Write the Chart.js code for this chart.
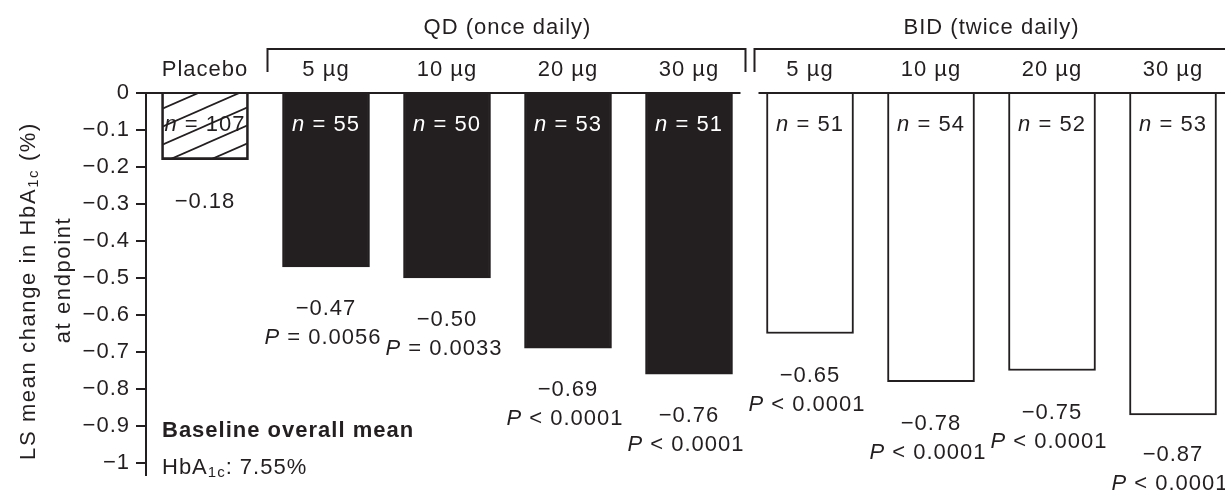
<!DOCTYPE html>
<html>
<head>
<meta charset="utf-8">
<script src="https://cdn.jsdelivr.net/npm/chart.js@4.4.0/dist/chart.umd.min.js"></script>
<style>
  html, body { margin: 0; padding: 0; background: #fff; }
</style>
</head>
<body>
<canvas id="hba1cChart" width="1225" height="494"></canvas>
<script>
// Data
const categories = ['Placebo', '5 µg', '10 µg', '20 µg', '30 µg', '5 µg', '10 µg', '20 µg', '30 µg'];
const regimens = ['placebo', 'QD', 'QD', 'QD', 'QD', 'BID', 'BID', 'BID', 'BID'];
const lsMeanChange = [-0.18, -0.47, -0.50, -0.69, -0.76, -0.65, -0.78, -0.75, -0.87];
const sampleSizes = [107, 55, 50, 53, 51, 51, 54, 52, 53];
const pValues = [null, '= 0.0056', '= 0.0033', '< 0.0001', '< 0.0001', '< 0.0001', '< 0.0001', '< 0.0001', '< 0.0001'];
const groupNames = { QD: 'QD (once daily)', BID: 'BID (twice daily)' };
const baselineTitle = 'Baseline overall mean';
const baselineValue = ': 7.55%';

const INK = '#231f20';
const FAMILY = '"Liberation Sans", Arial, Helvetica, sans-serif';
const REG = `22px ${FAMILY}`;
const ITAL = `italic 22px ${FAMILY}`;
const BOLD = `bold 22px ${FAMILY}`;
const SUB = `15px ${FAMILY}`;

function minus(v) {
    return v < 0 ? '\u2212' + Math.abs(v).toFixed(2) : v.toFixed(2);
}

// diagonal hatch used for the placebo bar
function hatchPattern() {
    const w = 41, h = 18;
    const c = document.createElement('canvas');
    c.width = w;
    c.height = h;
    const g = c.getContext('2d');
    g.strokeStyle = INK;
    g.lineWidth = 1.7;
    [-h, 0, h].forEach(dy => {
        g.beginPath();
        g.moveTo(-w, 2 * h + dy);
        g.lineTo(2 * w, -h + dy);
        g.stroke();
    });
    return g.createPattern(c, 'repeat');
}

// draws several font runs as one line (italic P / n, subscripts)
function drawRuns(ctx, runs, x, y, align) {
    let total = 0;
    runs.forEach(r => {
        ctx.font = r.font;
        r.w = ctx.measureText(r.text).width;
        total += r.w;
    });
    let cx = align === 'center' ? x - total / 2 : (align === 'right' ? x - total : x);
    ctx.textAlign = 'left';
    runs.forEach(r => {
        ctx.font = r.font;
        ctx.fillText(r.text, cx, y + (r.dy || 0));
        cx += r.w;
    });
}

const annotations = {
    id: 'annotations',
    beforeDraw(chart) {
        chart.ctx.letterSpacing = '1px';
    },
    afterDraw(chart) {
        const ctx = chart.ctx;
        const xs = chart.scales.x;
        const ys = chart.scales.y;
        const W = chart.width;
        const H = chart.height;
        const zeroY = ys.getPixelForValue(0);
        const cx = i => xs.getPixelForValue(i);
        const mid = (a, b) => (cx(a) + cx(b)) / 2;
        const split = mid(4, 5);

        ctx.save();
        ctx.letterSpacing = '1px';
        ctx.strokeStyle = INK;
        ctx.fillStyle = INK;
        ctx.lineWidth = 2;
        ctx.textBaseline = 'middle';

        // zero line, broken between the two regimens
        ctx.beginPath();
        ctx.moveTo(chart.chartArea.left, zeroY);
        ctx.lineTo(split - 9, zeroY);
        ctx.moveTo(split + 9, zeroY);
        ctx.lineTo(W, zeroY);
        ctx.stroke();

        // brackets
        const bTop = 49, bBottom = 72;
        ctx.beginPath();
        ctx.moveTo(mid(0, 1) + 2, bBottom);
        ctx.lineTo(mid(0, 1) + 2, bTop);
        ctx.lineTo(split - 4, bTop);
        ctx.lineTo(split - 4, bBottom);
        ctx.moveTo(split + 5, bBottom);
        ctx.lineTo(split + 5, bTop);
        ctx.lineTo(W, bTop);
        ctx.stroke();

        // group titles
        ['QD', 'BID'].forEach(g => {
            const idx = regimens.map((r, i) => r === g ? i : -1).filter(i => i >= 0);
            const gx = (cx(idx[0]) + cx(idx[idx.length - 1])) / 2;
            drawRuns(ctx, [{ text: groupNames[g], font: REG }], gx, 28, 'center');
        });

        lsMeanChange.forEach((v, i) => {
            const x = cx(i);
            // category label
            ctx.fillStyle = INK;
            drawRuns(ctx, [{ text: categories[i], font: REG }], x, 70, 'center');

            // n inside bar
            ctx.fillStyle = regimens[i] === 'QD' ? '#fff' : INK;
            drawRuns(ctx, [{ text: 'n', font: ITAL }, { text: ' = ' + sampleSizes[i], font: REG }], x, zeroY + 32, 'center');

            // value and P below bar
            ctx.fillStyle = INK;
            const vy = Math.min(ys.getPixelForValue(v) + 42, H - 39);
            drawRuns(ctx, [{ text: minus(v), font: REG }], x, vy, 'center');
            if (pValues[i]) {
                drawRuns(ctx, [{ text: 'P', font: ITAL }, { text: ' ' + pValues[i], font: REG }], x - 3, vy + 29, 'center');
            }
        });

        // baseline note
        ctx.fillStyle = INK;
        drawRuns(ctx, [{ text: baselineTitle, font: BOLD }], 162, 431, 'left');
        drawRuns(ctx, [
            { text: 'HbA', font: REG },
            { text: '1c', font: SUB, dy: 5 },
            { text: baselineValue, font: REG }
        ], 162, 468, 'left');

        // y axis title
        ctx.letterSpacing = '1.6px';
        ctx.save();
        ctx.translate(29, 291);
        ctx.rotate(-Math.PI / 2);
        drawRuns(ctx, [
            { text: 'LS mean change in HbA', font: REG },
            { text: '1c', font: SUB, dy: 5 },
            { text: ' (%)', font: REG }
        ], 0, 0, 'center');
        ctx.restore();
        ctx.save();
        ctx.translate(64, 280);
        ctx.rotate(-Math.PI / 2);
        drawRuns(ctx, [{ text: 'at endpoint', font: REG }], 0, 0, 'center');
        ctx.restore();

        ctx.restore();
    }
};

const hatch = hatchPattern();

new Chart(document.getElementById('hba1cChart').getContext('2d'), {
    type: 'bar',
    data: {
        datasets: [{
            data: lsMeanChange.map((v, i) => ({ x: i, y: v })),
            backgroundColor: regimens.map(r => r === 'QD' ? INK : (r === 'BID' ? '#ffffff' : hatch)),
            borderColor: INK,
            borderWidth: 2,
            barThickness: 87,
        }]
    },
    options: {
        responsive: false,
        animation: false,
        layout: { padding: { top: 93, bottom: 9, left: 0, right: 0 } },
        plugins: {
            legend: { display: false },
            tooltip: { enabled: false },
        },
        scales: {
            x: {
                type: 'linear',
                offset: false,
                min: -0.4876,
                max: 8.4297,
                display: false,
            },
            y: {
                min: -1.032,
                max: 0,
                afterFit: s => { s.width = 146; },
                border: { display: true, color: INK, width: 2 },
                grid: {
                    drawOnChartArea: false,
                    drawTicks: true,
                    tickLength: 10,
                    color: INK,
                    lineWidth: 2,
                },
                ticks: {
                    stepSize: 0.1,
                    includeBounds: false,
                    autoSkip: false,
                    padding: 6,
                    color: INK,
                    font: { family: FAMILY, size: 22 },
                    callback: v => {
                        if (Math.abs(v) < 1e-9) return '0';
                        const a = Math.abs(v);
                        return '\u2212' + (Math.abs(a - 1) < 1e-9 ? '1' : a.toFixed(1));
                    }
                }
            }
        }
    },
    plugins: [annotations]
});
</script>
</body>
</html>
